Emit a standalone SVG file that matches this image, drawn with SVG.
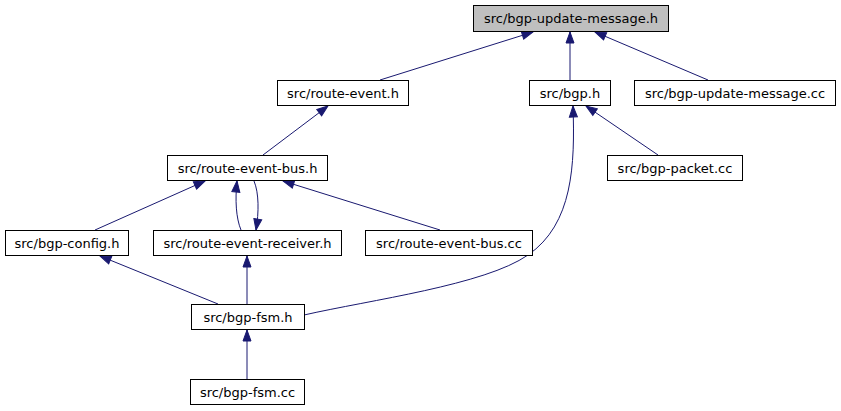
<svg xmlns="http://www.w3.org/2000/svg" width="841" height="411" viewBox="0 0 841 411">
<style>
.n rect{fill:#fff;stroke:#000;stroke-width:1}
.n text{font-family:"DejaVu Sans",sans-serif;font-size:13px;text-anchor:middle;fill:#000}
.e path{fill:none;stroke:#191970;stroke-width:1;marker-end:url(#ah)}
</style>
<defs>
<marker id="ah" markerUnits="userSpaceOnUse" markerWidth="12" markerHeight="9" refX="11" refY="4" orient="auto" overflow="visible">
<path d="M0,0 L11,4 L0,8 z" fill="#191970" stroke="#191970"/>
</marker>
</defs>
<rect width="841" height="411" fill="#fff"/>
<g class="e">
<path d="M380,80 L533,32"/>
<path d="M570,80 L570,32"/>
<path d="M708,80 L595,32"/>
<path d="M263,155 L328,106"/>
<path d="M658,155 L586,106"/>
<path d="M304,315 C370,300 485,285 528,255 C573,224 575,165 573,106"/>
<path d="M95,230 L205,181"/>
<path d="M241,230 C236,218 235,200 237,181"/>
<path d="M254,181 C259,193 259,212 256,230"/>
<path d="M440,230 L283,181"/>
<path d="M218,304 L100,256"/>
<path d="M247,304 L247,256"/>
<path d="M247,379 L247,330"/>
</g>
<g id="n_bgp_update_message_h" class="n"><rect x="473.5" y="5.5" width="195" height="26" style="fill:#bfbfbf"/><text x="571" y="23">src/bgp-update-message.h</text></g>
<g id="n_route_event_h" class="n"><rect x="277.5" y="80.5" width="131" height="25"/><text x="343" y="97.5">src/route-event.h</text></g>
<g id="n_bgp_h" class="n"><rect x="529.5" y="80.5" width="81" height="25"/><text x="570" y="97.5">src/bgp.h</text></g>
<g id="n_bgp_update_message_cc" class="n"><rect x="634.5" y="80.5" width="201" height="25"/><text x="735" y="97.5">src/bgp-update-message.cc</text></g>
<g id="n_route_event_bus_h" class="n"><rect x="167.5" y="155.5" width="160" height="25"/><text x="247.5" y="172.5">src/route-event-bus.h</text></g>
<g id="n_bgp_packet_cc" class="n"><rect x="607.5" y="155.5" width="135" height="25"/><text x="675" y="172.5">src/bgp-packet.cc</text></g>
<g id="n_bgp_config_h" class="n"><rect x="5.5" y="230.5" width="123" height="25"/><text x="67" y="247.5">src/bgp-config.h</text></g>
<g id="n_route_event_receiver_h" class="n"><rect x="153.5" y="230.5" width="188" height="25"/><text x="247.5" y="247.5">src/route-event-receiver.h</text></g>
<g id="n_route_event_bus_cc" class="n"><rect x="365.5" y="230.5" width="167" height="25"/><text x="449" y="247.5">src/route-event-bus.cc</text></g>
<g id="n_bgp_fsm_h" class="n"><rect x="191.5" y="304.5" width="113" height="25"/><text x="248" y="321.5">src/bgp-fsm.h</text></g>
<g id="n_bgp_fsm_cc" class="n"><rect x="190.5" y="379.5" width="114" height="25"/><text x="247.5" y="396.5">src/bgp-fsm.cc</text></g>
</svg>
